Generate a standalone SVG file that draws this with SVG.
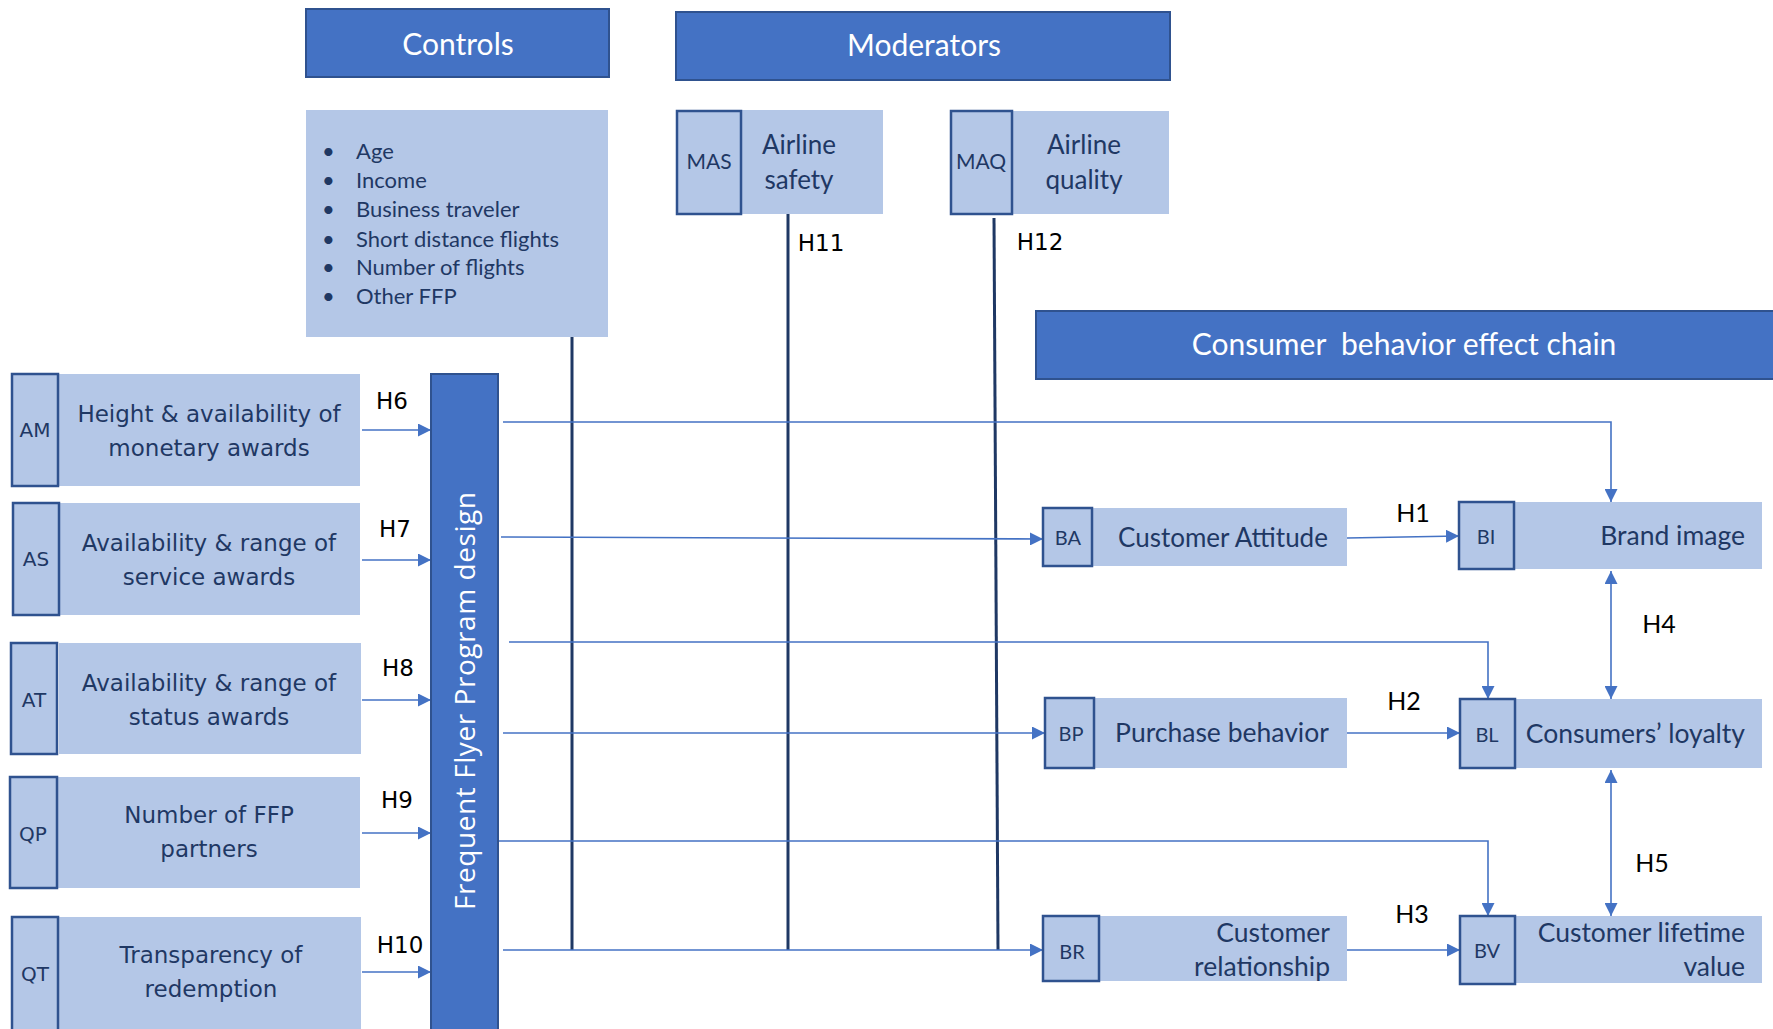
<svg xmlns="http://www.w3.org/2000/svg" width="1773" height="1029" viewBox="0 0 1773 1029">
  <style>
    .hdr { fill: #4472C4; stroke: #2F528F; stroke-width: 2; }
    .hdr-t { fill: #ffffff; font-family: Lato, "Open Sans", sans-serif; font-size: 30px; text-anchor: middle; }
    .pane { fill: #B4C7E7; }
    .tag { fill: #B4C7E7; stroke: #2F528F; stroke-width: 2.5; }
    .t { fill: #1F3864; font-family: Lato, "Open Sans", sans-serif; }
    .lt { fill: #1F3864; font-family: "DejaVu Sans", sans-serif; font-size: 23px; text-anchor: middle; }
    .ltag { fill: #1F3864; font-family: "DejaVu Sans", sans-serif; font-size: 20px; text-anchor: middle; }
    .h { fill: #000000; font-family: Lato, "Open Sans", sans-serif; font-size: 25px; text-anchor: middle; }
    .hl { fill: #000000; font-family: "DejaVu Sans", sans-serif; font-size: 23px; text-anchor: middle; }
    .link { fill: none; stroke: #4472C4; stroke-width: 1.6; }
    .mod { fill: none; stroke: #1F3864; stroke-width: 3; }
  </style>
  <defs>
    <marker id="ah" viewBox="0 0 12 12" refX="12" refY="6" markerWidth="13" markerHeight="13" markerUnits="userSpaceOnUse" orient="auto-start-reverse">
      <path d="M0,0 L12,6 L0,12 z" fill="#4472C4"/>
    </marker>
  </defs>

  <rect width="1773" height="1029" fill="#ffffff"/>

  <!-- section headers -->
  <g id="controls-header">
    <rect class="hdr" x="306" y="9" width="303" height="68"/>
    <text class="hdr-t" x="458" y="55">Controls</text>
  </g>
  <g id="moderators-header">
    <rect class="hdr" x="676" y="12" width="494" height="68"/>
    <text class="hdr-t" x="924" y="56">Moderators</text>
  </g>
  <g id="chain-header">
    <rect class="hdr" x="1036" y="311" width="745" height="68"/>
    <text class="hdr-t" x="1404" y="355" xml:space="preserve">Consumer  behavior effect chain</text>
  </g>

  <!-- control variables -->
  <g id="controls-list">
    <rect class="pane" x="306" y="110" width="302" height="227"/>
    <g class="t" font-size="22">
      <text x="322" y="159">•</text><text x="356" y="159">Age</text>
      <text x="322" y="188">•</text><text x="356" y="188">Income</text>
      <text x="322" y="217">•</text><text x="356" y="217">Business traveler</text>
      <text x="322" y="247">•</text><text x="356" y="247">Short distance flights</text>
      <text x="322" y="275">•</text><text x="356" y="275">Number of flights</text>
      <text x="322" y="304">•</text><text x="356" y="304">Other FFP</text>
    </g>
  </g>

  <!-- moderators -->
  <g id="MAS">
    <rect class="pane" x="676" y="110" width="207" height="104"/>
    <rect class="tag" x="677" y="111" width="64" height="103"/>
    <text class="t" x="709" y="169" font-size="21" text-anchor="middle">MAS</text>
    <text class="t" x="799" y="154" font-size="26" text-anchor="middle">Airline</text>
    <text class="t" x="799" y="189" font-size="26" text-anchor="middle">safety</text>
  </g>
  <g id="MAQ">
    <rect class="pane" x="950" y="111" width="219" height="103"/>
    <rect class="tag" x="951" y="111" width="61" height="103"/>
    <text class="t" x="981" y="169" font-size="21" text-anchor="middle">MAQ</text>
    <text class="t" x="1084" y="154" font-size="26" text-anchor="middle">Airline</text>
    <text class="t" x="1084" y="189" font-size="26" text-anchor="middle">quality</text>
  </g>

  <!-- connectors -->
  <g id="connectors">
    <path class="mod" d="M572,337 V950"/>
    <path class="mod" d="M788,214 V950"/>
    <path class="mod" d="M994,218 L998,950"/>

    <path class="link" d="M362,430 H431" marker-end="url(#ah)"/>
    <path class="link" d="M362,560 H431" marker-end="url(#ah)"/>
    <path class="link" d="M362,700 H431" marker-end="url(#ah)"/>
    <path class="link" d="M362,833 H431" marker-end="url(#ah)"/>
    <path class="link" d="M362,972 H431" marker-end="url(#ah)"/>

    <path class="link" d="M503,422 H1611 V502" marker-end="url(#ah)"/>
    <path class="link" d="M501,537 L1043,539" marker-end="url(#ah)"/>
    <path class="link" d="M509,642 H1488 V699" marker-end="url(#ah)"/>
    <path class="link" d="M503,733 H1045" marker-end="url(#ah)"/>
    <path class="link" d="M499,841 H1488 V916" marker-end="url(#ah)"/>
    <path class="link" d="M503,950 H1043" marker-end="url(#ah)"/>

    <path class="link" d="M1347,538 L1459,536" marker-end="url(#ah)"/>
    <path class="link" d="M1347,733 H1460" marker-end="url(#ah)"/>
    <path class="link" d="M1347,950 H1460" marker-end="url(#ah)"/>
    <path class="link" d="M1611,571 V699" marker-start="url(#ah)" marker-end="url(#ah)"/>
    <path class="link" d="M1611,770 V916" marker-start="url(#ah)" marker-end="url(#ah)"/>
  </g>

  <!-- hypothesis labels -->
  <g id="hypotheses">
    <text class="hl" x="392" y="409">H6</text>
    <text class="hl" x="395" y="537">H7</text>
    <text class="hl" x="398" y="676">H8</text>
    <text class="hl" x="397" y="808">H9</text>
    <text class="hl" x="400" y="953">H10</text>
    <text class="hl" x="821" y="251">H11</text>
    <text class="hl" x="1040" y="250">H12</text>
    <text class="h" x="1413" y="522">H1</text>
    <text class="h" x="1404" y="710">H2</text>
    <text class="h" x="1412" y="923">H3</text>
    <text class="h" x="1659" y="633">H4</text>
    <text class="h" x="1652" y="872">H5</text>
  </g>

  <!-- program design drivers -->
  <g id="AM">
    <rect class="pane" x="58" y="374" width="302" height="112"/>
    <rect class="tag" x="12" y="374" width="46" height="112"/>
    <text class="ltag" x="35" y="437">AM</text>
    <text class="lt" x="209" y="422">Height &amp; availability of</text>
    <text class="lt" x="209" y="456">monetary awards</text>
  </g>
  <g id="AS">
    <rect class="pane" x="59" y="503" width="301" height="112"/>
    <rect class="tag" x="13" y="503" width="46" height="112"/>
    <text class="ltag" x="36" y="566">AS</text>
    <text class="lt" x="209" y="551">Availability &amp; range of</text>
    <text class="lt" x="209" y="585">service awards</text>
  </g>
  <g id="AT">
    <rect class="pane" x="59" y="643" width="302" height="111"/>
    <rect class="tag" x="11" y="643" width="46" height="111"/>
    <text class="ltag" x="34" y="707">AT</text>
    <text class="lt" x="209" y="691">Availability &amp; range of</text>
    <text class="lt" x="209" y="725">status awards</text>
  </g>
  <g id="QP">
    <rect class="pane" x="57" y="777" width="303" height="111"/>
    <rect class="tag" x="10" y="777" width="47" height="111"/>
    <text class="ltag" x="33" y="841">QP</text>
    <text class="lt" x="209" y="823">Number of FFP</text>
    <text class="lt" x="209" y="857">partners</text>
  </g>
  <g id="QT">
    <rect class="pane" x="58" y="917" width="303" height="112"/>
    <rect class="tag" x="12" y="917" width="46" height="114"/>
    <text class="ltag" x="35" y="981">QT</text>
    <text class="lt" x="211" y="963">Transparency of</text>
    <text class="lt" x="211" y="997">redemption</text>
  </g>

  <g id="FFP">
    <rect class="hdr" x="431" y="374" width="67" height="660"/>
    <text transform="translate(475,701) rotate(-90)" fill="#ffffff" font-family="'Open Sans', sans-serif" font-size="28" text-anchor="middle" textLength="418" lengthAdjust="spacing">Frequent Flyer Program design</text>
  </g>

  <!-- consumer behavior effect chain -->
  <g id="BA">
    <rect class="pane" x="1043" y="508" width="304" height="58"/>
    <rect class="tag" x="1043" y="508" width="49" height="58"/>
    <text class="t" x="1068" y="545" font-size="20" text-anchor="middle">BA</text>
    <text class="t" x="1223" y="547" font-size="26" text-anchor="middle">Customer Attitude</text>
  </g>
  <g id="BI">
    <rect class="pane" x="1459" y="502" width="303" height="67"/>
    <rect class="tag" x="1459" y="502" width="55" height="67"/>
    <text class="t" x="1486" y="544" font-size="20" text-anchor="middle">BI</text>
    <text class="t" x="1745" y="545" font-size="26.5" text-anchor="end">Brand image</text>
  </g>
  <g id="BP">
    <rect class="pane" x="1045" y="698" width="302" height="70"/>
    <rect class="tag" x="1045" y="698" width="49" height="70"/>
    <text class="t" x="1071" y="741" font-size="20" text-anchor="middle">BP</text>
    <text class="t" x="1222" y="742" font-size="26.5" text-anchor="middle">Purchase behavior</text>
  </g>
  <g id="BL">
    <rect class="pane" x="1460" y="699" width="302" height="69"/>
    <rect class="tag" x="1460" y="699" width="55" height="69"/>
    <text class="t" x="1487" y="742" font-size="20" text-anchor="middle">BL</text>
    <text class="t" x="1745" y="743" font-size="26.5" text-anchor="end">Consumers’ loyalty</text>
  </g>
  <g id="BR">
    <rect class="pane" x="1043" y="916" width="304" height="65"/>
    <rect class="tag" x="1043" y="916" width="56" height="65"/>
    <text class="t" x="1072" y="959" font-size="20" text-anchor="middle">BR</text>
    <text class="t" x="1330" y="942" font-size="26.5" text-anchor="end">Customer</text>
    <text class="t" x="1330" y="976" font-size="26.5" text-anchor="end">relationship</text>
  </g>
  <g id="BV">
    <rect class="pane" x="1460" y="916" width="302" height="67"/>
    <rect class="tag" x="1460" y="916" width="55" height="68"/>
    <text class="t" x="1487" y="958" font-size="20" text-anchor="middle">BV</text>
    <text class="t" x="1745" y="942" font-size="26.5" text-anchor="end">Customer lifetime</text>
    <text class="t" x="1745" y="976" font-size="26.5" text-anchor="end">value</text>
  </g>
</svg>
